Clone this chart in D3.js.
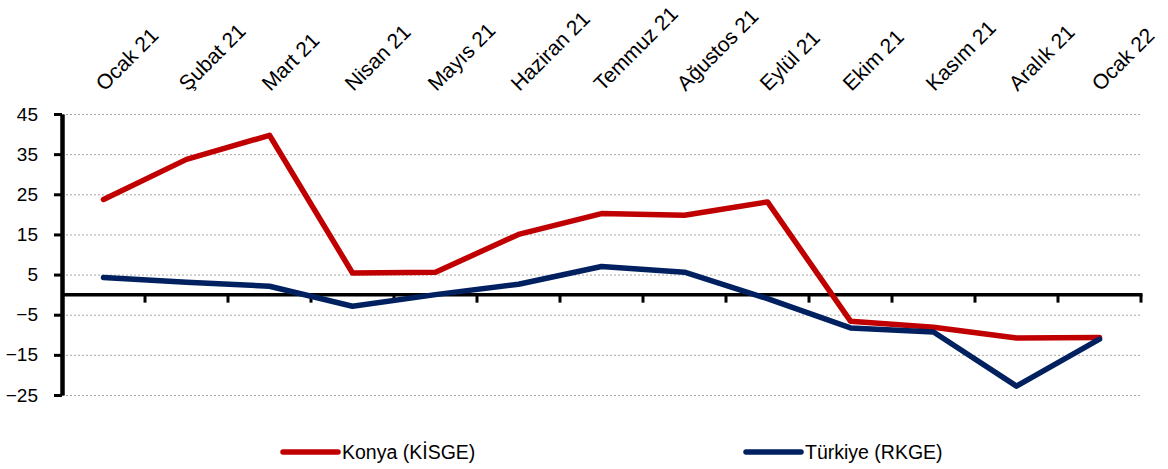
<!DOCTYPE html>
<html>
<head>
<meta charset="utf-8">
<script src="https://cdn.jsdelivr.net/npm/d3@7"></script>
<style>
  body { margin: 0; background: #fff; }
  text { font-family: "Liberation Sans", Arial, sans-serif; fill: #000; }
</style>
</head>
<body>
<div id="chart"></div>
<script>
// data
const months = ['Ocak 21', 'Şubat 21', 'Mart 21', 'Nisan 21', 'Mayıs 21', 'Haziran 21', 'Temmuz 21',
  'Ağustos 21', 'Eylül 21', 'Ekim 21', 'Kasım 21', 'Aralık 21', 'Ocak 22'];
const konya = [23.7, 33.7, 39.7, 5.4, 5.6, 15.0, 20.2, 19.8, 23.1, -6.6, -8.1, -10.8, -10.7];
const turkiye = [4.3, 3.1, 2.1, -2.9, 0.0, 2.6, 7.0, 5.6, -1.0, -8.3, -9.3, -22.8, -11.1];
const yTicks = [45, 35, 25, 15, 5, -5, -15, -25];

const seriesNames = ['Konya (KİSGE)', 'Türkiye (RKGE)'];
const colors = ['#C00000', '#002060'];

const width = 1168, height = 469;
const plot = { left: 62, right: 1141, top: 114, bottom: 395 };

const svg = d3.select('#chart').append('svg')
  .attr('width', width)
  .attr('height', height);

const x = d3.scaleBand().domain(months).range([plot.left, plot.right]);
const y = d3.scaleLinear().domain([-25, 45]).range([plot.bottom, plot.top]);
const bw = x.bandwidth();

// dotted gridlines
const grid = svg.append('g')
  .attr('transform', `translate(${plot.left},0)`)
  .call(d3.axisLeft(y).tickValues(yTicks).tickSize(-(plot.right - plot.left)).tickFormat(''));
grid.select('.domain').remove();
grid.selectAll('line')
  .attr('stroke', '#a6a6a6')
  .attr('stroke-width', 1)
  .attr('stroke-dasharray', '2,2');

// y axis
const yAxisG = svg.append('g')
  .attr('transform', `translate(${plot.left},0)`)
  .call(d3.axisLeft(y).tickValues(yTicks).tickSize(8).tickSizeOuter(0).tickPadding(16));
yAxisG.select('.domain')
  .attr('stroke', '#000')
  .attr('stroke-width', 4.5);
yAxisG.selectAll('.tick line')
  .attr('stroke', '#000')
  .attr('stroke-width', 3);
yAxisG.selectAll('.tick text')
  .style('font-size', '19px')
  .style('font-family', '"Liberation Sans", Arial, sans-serif')
  .attr('fill', '#000');

// x axis at zero, ticks between categories
svg.append('line')
  .attr('x1', plot.left).attr('x2', plot.right + 1.5)
  .attr('y1', y(0)).attr('y2', y(0))
  .attr('stroke', '#000')
  .attr('stroke-width', 3.5);

svg.append('g').selectAll('line')
  .data(months)
  .join('line')
  .attr('x1', d => x(d) + bw).attr('x2', d => x(d) + bw)
  .attr('y1', y(0)).attr('y2', y(0) + 8)
  .attr('stroke', '#000')
  .attr('stroke-width', 3);

// category labels on top, rotated
svg.append('g').selectAll('text')
  .data(months)
  .join('text')
  .attr('transform', d => `translate(${x(d) + bw / 2 + 1},92) rotate(-45)`)
  .style('font-size', '21px')
  .text(d => d);

// lines
const line = d3.line()
  .x((d, i) => x(months[i]) + bw / 2)
  .y(d => y(d));

[konya, turkiye].forEach((s, i) => {
  svg.append('path')
    .datum(s)
    .attr('fill', 'none')
    .attr('stroke', colors[i])
    .attr('stroke-width', 5.5)
    .attr('stroke-linejoin', 'round')
    .attr('stroke-linecap', 'round')
    .attr('d', line);
});

// legend
const legendX = [283, 746];
const legend = svg.append('g').selectAll('g')
  .data(seriesNames)
  .join('g')
  .attr('transform', (d, i) => `translate(${legendX[i]},452)`);

legend.append('line')
  .attr('x1', 0).attr('x2', 55)
  .attr('stroke', (d, i) => colors[i])
  .attr('stroke-width', 5.5)
  .attr('stroke-linecap', 'round');

legend.append('text')
  .attr('x', 59)
  .attr('dy', '0.35em')
  .style('font-size', '19.5px')
  .text(d => d);
</script>
</body>
</html>
